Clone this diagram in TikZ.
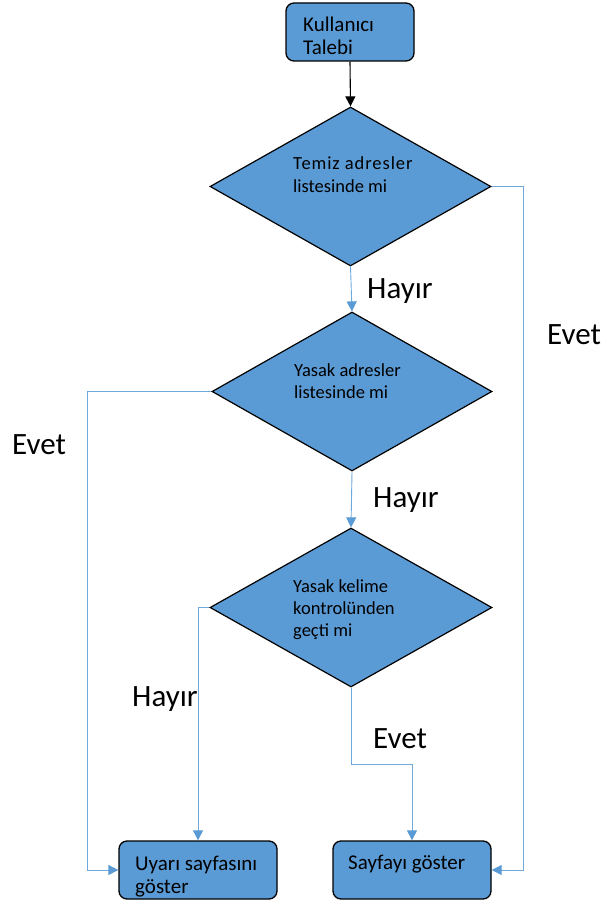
\documentclass[tikz,border=0pt]{standalone}
\usepackage{fontspec}
\setmainfont{Carlito}
\usetikzlibrary{arrows.meta,shapes.geometric}
\definecolor{fillblue}{HTML}{5B9BD5}
\definecolor{lineblue}{HTML}{6FA8DC}
\definecolor{tipblue}{HTML}{5B9BD5}
\begin{document}
\begin{tikzpicture}[x=1pt,y=-1pt,
  procbox/.style={draw=black, line width=1.3pt, fill=fillblue, rounded corners=8pt,
    minimum width=128pt, minimum height=58pt, inner sep=0pt},
  decision/.style={diamond, draw=black, line width=1.2pt, fill=fillblue,
    minimum width=281pt, minimum height=159pt, inner sep=0pt},
  conn/.style={draw=lineblue, line width=0.9pt,
    -{Triangle[length=10pt,width=10pt,fill=tipblue,color=tipblue]}},
  blackconn/.style={draw=black, line width=1.1pt,
    -{Triangle[length=10pt,width=10pt]}},
  boxtxt/.style={anchor=base west, inner sep=0pt, font=\fontsize{21}{23}\selectfont},
  dtxt/.style={anchor=base west, inner sep=0pt, font=\fontsize{18.5}{22}\selectfont},
  lbl/.style={anchor=base west, inner sep=0pt, font=\fontsize{31}{37}\selectfont}]
\useasboundingbox (0,0) rectangle (603,901);

% shapes
\node[procbox] (start) at (350,32) {};
\node[decision] (d1) at (350.5,186.5) {};
\node[decision, minimum width=280pt] (d2) at (352,391.5) {};
\node[decision, minimum width=282pt] (d3) at (351,607.5) {};
\node[procbox, minimum width=158pt] (u) at (198,870) {};
\node[procbox, minimum width=158pt] (s) at (412,870) {};

% texts
\node[boxtxt] (t1a) at (303,32) {Kullanıcı};
\node[boxtxt] (t1b) at (303,55) {Talebi};
\node[dtxt] (t2a) at (293,170) {\addfontfeatures{LetterSpace=5}Temiz adresler};
\node[dtxt] (t2b) at (293,193) {listesinde mi};
\node[dtxt] (t3a) at (294,376) {Yasak adresler};
\node[dtxt] (t3b) at (294,398) {listesinde mi};
\node[dtxt] (t4a) at (293,592) {Yasak kelime};
\node[dtxt] (t4b) at (293,614) {kontrolünden};
\node[dtxt] (t4c) at (293,636) {geçti mi};
\node[boxtxt] (t5a) at (135,870) {Uyarı sayfasını};
\node[boxtxt] (t5b) at (135,893) {göster};
\node[boxtxt] (t6) at (348,869) {Sayfayı göster};

% labels
\node[lbl] (h1) at (367,298) {Hayır};
\node[lbl] (e1) at (547,344) {Evet};
\node[lbl] (e2) at (12,454) {Evet};
\node[lbl] (h2) at (373,507) {Hayır};
\node[lbl] (h3) at (132,706) {Hayır};
\node[lbl] (e3) at (373,748) {Evet};

% connectors
\coordinate (r1) at (523,186.5);
\coordinate (l1) at (87,391.5);
\coordinate (b1) at (351,764);
\draw[blackconn] (start.south) -- (d1.north);
\draw[conn] (d1.east) -- (r1) |- (s.east);
\draw[conn] (d1.south) -- (d2.north);
\draw[conn] (d2.west) -- (l1) |- (u.west);
\draw[conn] (d2.south) -- (d3.north);
\draw[conn] (d3.west) -| (u.north);
\draw[conn] (d3.south) -- (b1) -| (s.north);
\end{tikzpicture}
\end{document}
